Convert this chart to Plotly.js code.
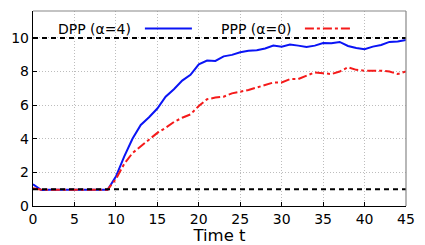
<!DOCTYPE html>
<html><head><meta charset="utf-8">
<script src="https://cdn.plot.ly/plotly-3.0.1.min.js"></script>
<style>html,body{margin:0;padding:0;background:#fff}#c{width:425px;height:245px}</style>
</head><body><div id="c"></div>
<script>
var timeT = [];
for (var i = 0; i <= 45; i++) timeT.push(i);
var dpp = [1.29,0.95,0.97,0.97,0.98,0.97,0.96,0.97,0.98,0.97,
           1.75,2.94,4.0,4.82,5.28,5.8,6.5,6.95,7.46,7.8,
           8.43,8.65,8.63,8.9,8.99,9.15,9.23,9.27,9.37,9.54,
           9.48,9.6,9.54,9.46,9.54,9.7,9.68,9.76,9.52,9.4,
           9.33,9.48,9.58,9.76,9.78,9.88];
var ppp = [1.05,0.97,0.97,0.96,0.97,0.96,0.93,0.96,0.97,0.97,
           1.6,2.5,3.15,3.55,4.0,4.35,4.65,5.0,5.25,5.45,
           5.95,6.35,6.45,6.5,6.7,6.78,6.9,7.05,7.2,7.35,
           7.35,7.55,7.55,7.75,7.95,7.9,7.85,8.0,8.25,8.1,
           8.05,8.05,8.05,8.0,7.85,8.0];
var refLevels = [10, 1];
var seriesNames = ['DPP (α=4)', 'PPP (α=0)'];
var xTicks = [0,5,10,15,20,25,30,35,40,45];
var yTicks = [0,2,4,6,8,10];

var traces = [
  {x: timeT, y: dpp, mode: 'lines', name: seriesNames[0],
   line: {color: '#0a14f5', width: 2}, showlegend: false},
  {x: timeT, y: ppp, mode: 'lines', name: seriesNames[1],
   line: {color: '#f51a1a', width: 2, dash: 'dashdot'}, showlegend: false}
];

var shapes = refLevels.map(function(v){
  return {type:'line', xref:'paper', x0:0, x1:1, yref:'y', y0:v, y1:v,
          line:{color:'#000', width:2, dash:'5px,4px'}};
});
shapes.push({type:'line', xref:'paper', yref:'paper', x0:0, x1:1, y0:1, y1:1, line:{color:'#888', width:1.2}});
shapes.push({type:'line', xref:'paper', yref:'paper', x0:1, x1:1, y0:0, y1:1, line:{color:'#888', width:1.2}});
shapes.push({type:'line', xref:'paper', yref:'paper', x0:0.300, x1:0.426, y0:0.91, y1:0.91, line:{color:'#0a14f5', width:2}});
shapes.push({type:'line', xref:'paper', yref:'paper', x0:0.729, x1:0.855, y0:0.91, y1:0.91, line:{color:'#f51a1a', width:2, dash:'dashdot'}});

var annotations = [
  {xref:'paper', yref:'paper', x:0.268, y:0.91, xanchor:'right', yanchor:'middle', showarrow:false,
   text: seriesNames[0], font:{family:'DejaVu Sans', size:14, color:'#000'}},
  {xref:'paper', yref:'paper', x:0.700, y:0.91, xanchor:'right', yanchor:'middle', showarrow:false,
   text: seriesNames[1], font:{family:'DejaVu Sans', size:14, color:'#000'}}
];

var layout = {
  width: 425, height: 245,
  margin: {l: 33, r: 19, t: 11, b: 39},
  paper_bgcolor: '#fff', plot_bgcolor: '#fff',
  font: {family: 'DejaVu Sans', size: 14, color: '#000'},
  xaxis: {range: [0, 45], tickvals: xTicks, ticks: 'inside', ticklen: 4, tickcolor: '#000',
          showline: true, linecolor: '#000', linewidth: 1.2, zeroline: false,
          showgrid: true, gridcolor: '#bdbdbd', griddash: '1px,2px', gridwidth: 1,
          title: {text: 'Time t', font: {size: 16.5}, standoff: 3}, tickfont: {size: 14}},
  yaxis: {range: [0, 11.6], tickvals: yTicks, ticks: 'inside', ticklen: 4, tickcolor: '#000',
          showline: true, linecolor: '#000', linewidth: 1.2, zeroline: false,
          showgrid: true, gridcolor: '#bdbdbd', griddash: '1px,2px', gridwidth: 1,
          tickfont: {size: 14}},
  shapes: shapes,
  annotations: annotations,
  showlegend: false
};
Plotly.newPlot('c', traces, layout, {displayModeBar: false, staticPlot: true});
</script></body></html>
